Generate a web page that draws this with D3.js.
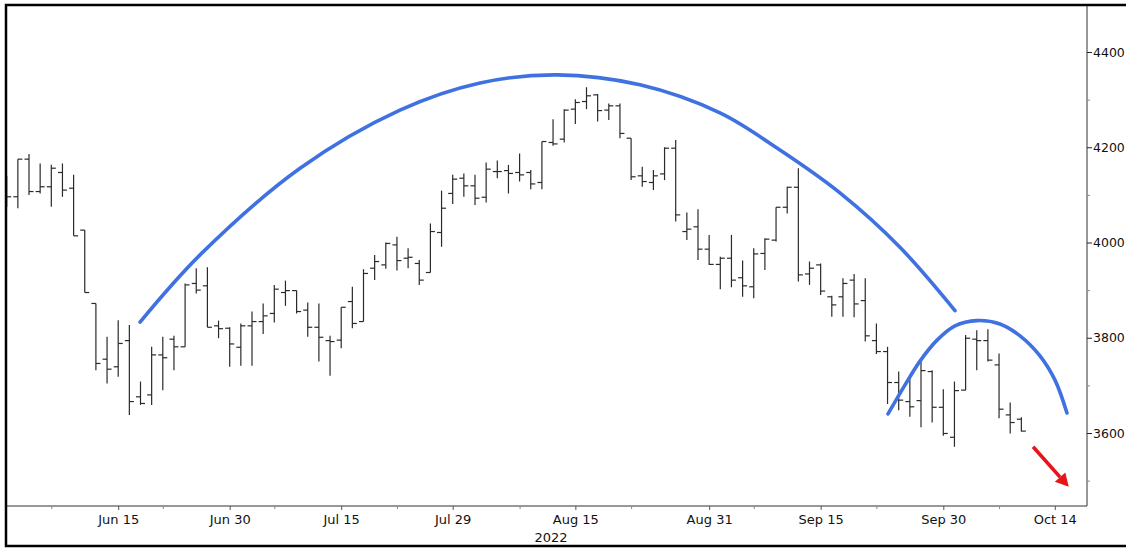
<!DOCTYPE html>
<html>
<head>
<meta charset="utf-8">
<script src="https://cdn.jsdelivr.net/npm/d3@7"></script>
<style>
  body { margin: 0; background: #fff; }
  svg { display: block; }
  text { font-family: "DejaVu Sans", Verdana, sans-serif; font-size: 13px; fill: #111; }
</style>
</head>
<body>
<div id="chart"></div>
<script>
// trading days shown on the axis (Jun 1 .. Oct 14, 2022)
var junDays = [1,2,3,6,7,8,9,10,13,14,15,16,17,21,22,23,24,27,28,29,30];
var julDays = [1,5,6,7,8,11,12,13,14,15,18,19,20,21,22,25,26,27,28,29];
var augDays = [1,2,3,4,5,8,9,10,11,12,15,16,17,18,19,22,23,24,25,26,29,30,31];
var sepDays = [1,2,6,7,8,9,12,13,14,15,16,19,20,21,22,23,26,27,28,29,30];
var octDays = [3,4,5,6,7,10,11,12,13,14];

// OHLC, one value per bar starting Jun 1
var open  = [4120,4096,4175,4107,4117,4147,4114,4026,3872,3755,3739,3794,3676,3680,3764,3797,3781,3914,3909,3825,
             3820,3780,3825,3834,3851,3895,3899,3858,3822,3794,3795,3876,3834,3946,3953,3995,3967,3956,3937,4021,
             4103,4135,4119,4095,4149,4151,4147,4147,4126,4210,4217,4280,4296,4310,4278,4287,4219,4140,4126,4144,
             4198,4023,4033,3986,3954,3967,3926,3907,3977,4005,4074,4116,3934,3953,3886,3886,3921,3878,3794,3771,
             3706,3666,3668,3729,3654,3591,3690,3797,3794,3743,3638,3629];
var high  = [4140,4175,4186,4166,4163,4166,4142,4026,3872,3802,3837,3827,3708,3781,3802,3804,3914,3946,3948,3836,
             3822,3830,3855,3872,3911,3920,3899,3874,3872,3804,3864,3907,3944,3974,4000,4012,3988,3963,4040,4109,
             4142,4145,4142,4168,4172,4163,4187,4152,4212,4259,4280,4301,4326,4312,4292,4292,4219,4159,4152,4200,
             4215,4063,4070,4016,3970,4016,3962,3988,4009,4074,4117,4156,3960,3956,3888,3925,3934,3925,3830,3781,
             3729,3715,3750,3732,3692,3708,3806,3816,3818,3767,3664,3633];
var low   = [4075,4072,4100,4103,4075,4096,4014,3895,3732,3704,3718,3638,3659,3659,3690,3732,3781,3893,3822,3799,
             3739,3741,3741,3808,3832,3867,3851,3802,3750,3720,3778,3820,3834,3921,3945,3941,3946,3911,3937,3991,
             4081,4096,4079,4084,4135,4103,4128,4112,4112,4203,4210,4249,4280,4254,4257,4219,4131,4117,4110,4131,
             4044,4005,3963,3953,3902,3906,3886,3883,3942,4002,4061,3918,3911,3890,3844,3844,3843,3792,3766,3661,
             3648,3634,3612,3622,3594,3571,3690,3732,3750,3631,3599,3603];
var close = [4096,4175,4107,4117,4156,4110,4014,3895,3746,3734,3788,3666,3662,3764,3758,3781,3911,3900,3822,3819,
             3787,3825,3834,3846,3902,3899,3855,3822,3801,3792,3864,3830,3935,3960,3998,3962,3969,3921,4023,4072,
             4133,4119,4093,4154,4149,4145,4142,4123,4212,4207,4278,4294,4308,4277,4287,4229,4138,4128,4140,4198,
             4058,4028,3986,3954,3967,3921,3909,3976,4007,4074,4116,3932,3946,3898,3869,3914,3871,3804,3771,3706,
             3669,3655,3731,3654,3599,3689,3799,3794,3753,3650,3622,3604];

var majorTicks = ["2022-06-15","2022-06-30","2022-07-15","2022-07-29","2022-08-15","2022-08-31","2022-09-15","2022-09-30","2022-10-14"];
var minorTicks = ["2022-06-07","2022-06-22","2022-07-07","2022-07-22","2022-08-08","2022-08-22","2022-09-07","2022-09-22","2022-10-07"];
var yMajor = [3600,3800,4000,4200,4400];
var yMinor = [3500,3700,3900,4100,4300];

// hand drawn annotation arcs, as [trading day index, price]
var bigArc   = [[11.96,3833],[17.34,3974],[26.31,4156],[35.27,4278],[42.45,4335],[49.35,4352],[56.8,4331],
                [63.97,4272],[69.35,4194],[74.73,4104],[80.11,3990],[85.05,3857]];
var smallArc = [[79.04,3640],[80.57,3701],[81.91,3751],[83.44,3795],[85.05,3825],[87.02,3836],[89.08,3829],
                [90.88,3804],[92.67,3762],[94.02,3711],[95.09,3642]];
var arrowPts = [[92.05,3571],[95.25,3487]];

var W = 1126, H = 548;
var plot = {left: 6, right: 1087, top: 5, bottom: 506};

function pad(n) { return n < 10 ? "0" + n : "" + n; }
var dates = [];
[[6, junDays],[7, julDays],[8, augDays],[9, sepDays],[10, octDays]].forEach(function(m) {
    m[1].forEach(function(d) { dates.push("2022-" + pad(m[0]) + "-" + pad(d)); });
});
var bars = open.map(function(o, i) {
    return {date: dates[i], o: o, h: high[i], l: low[i], c: close[i]};
});

var step = 11.15;
var x = d3.scalePoint()
    .domain(dates)
    .range([6.7, 6.7 + step * (dates.length - 1)]);
var xi = d3.scaleLinear()
    .domain([0, dates.length - 1])
    .range(x.range());
var y = d3.scaleLinear()
    .domain([3600, 4400])
    .range([433, 52]);

var parse = d3.timeParse("%Y-%m-%d");
var fmt = d3.timeFormat("%b %d");

var svg = d3.select("#chart").append("svg")
    .attr("width", W)
    .attr("height", H);

svg.append("rect").attr("width", W).attr("height", H).attr("fill", "#fff");

svg.append("defs").append("clipPath").attr("id", "clip")
    .append("rect")
    .attr("x", plot.left).attr("y", plot.top)
    .attr("width", plot.right - plot.left).attr("height", plot.bottom - plot.top);

var g = svg.append("g").attr("clip-path", "url(#clip)");

// ohlc bars
var tick = 4.5;
var b = g.append("g")
    .attr("stroke", "#2a2a2a")
    .attr("stroke-width", 1.2)
    .selectAll("g")
    .data(bars)
    .enter().append("g");
b.append("line")
    .attr("x1", function(d) { return x(d.date); })
    .attr("x2", function(d) { return x(d.date); })
    .attr("y1", function(d) { return y(d.h); })
    .attr("y2", function(d) { return y(d.l); });
b.append("line")
    .attr("x1", function(d) { return x(d.date) - tick; })
    .attr("x2", function(d) { return x(d.date); })
    .attr("y1", function(d) { return y(d.o); })
    .attr("y2", function(d) { return y(d.o); });
b.append("line")
    .attr("x1", function(d) { return x(d.date); })
    .attr("x2", function(d) { return x(d.date) + tick; })
    .attr("y1", function(d) { return y(d.c); })
    .attr("y2", function(d) { return y(d.c); });

// arcs
var arcLine = d3.line()
    .x(function(d) { return xi(d[0]); })
    .y(function(d) { return y(d[1]); })
    .curve(d3.curveCatmullRom);

g.append("path").datum(bigArc)
    .attr("d", arcLine)
    .attr("fill", "none")
    .attr("stroke", "#3f72e0")
    .attr("stroke-width", 3.6)
    .attr("stroke-linecap", "round");
g.append("path").datum(smallArc)
    .attr("d", arcLine)
    .attr("fill", "none")
    .attr("stroke", "#3f72e0")
    .attr("stroke-width", 3.6)
    .attr("stroke-linecap", "round");

// red arrow
var ax0 = xi(arrowPts[0][0]), ay0 = y(arrowPts[0][1]);
var ax1 = xi(arrowPts[1][0]), ay1 = y(arrowPts[1][1]);
var ang = Math.atan2(ay1 - ay0, ax1 - ax0);
var headLen = 13, headW = 7;
var bx = ax1 - headLen * Math.cos(ang), by = ay1 - headLen * Math.sin(ang);
g.append("line")
    .attr("x1", ax0).attr("y1", ay0)
    .attr("x2", bx).attr("y2", by)
    .attr("stroke", "#e8141a")
    .attr("stroke-width", 3.6);
g.append("path")
    .attr("d", "M" + ax1 + "," + ay1 +
        "L" + (bx + headW * Math.sin(ang)) + "," + (by - headW * Math.cos(ang)) +
        "L" + (bx - headW * Math.sin(ang)) + "," + (by + headW * Math.cos(ang)) + "Z")
    .attr("fill", "#e8141a");

// axes frame
svg.append("line")
    .attr("x1", plot.left).attr("x2", plot.right)
    .attr("y1", plot.bottom).attr("y2", plot.bottom)
    .attr("stroke", "#333").attr("stroke-width", 1);
svg.append("line")
    .attr("x1", plot.right).attr("x2", plot.right)
    .attr("y1", plot.top).attr("y2", plot.bottom)
    .attr("stroke", "#333").attr("stroke-width", 1);

// x axis
var xAxis = d3.axisBottom(x)
    .tickValues(majorTicks)
    .tickSize(4)
    .tickPadding(5)
    .tickFormat(function(d) { return fmt(parse(d)); });
var gx = svg.append("g")
    .attr("transform", "translate(0," + plot.bottom + ")")
    .call(xAxis);
gx.select(".domain").remove();
gx.selectAll("line").attr("stroke", "#555");
gx.selectAll("text").style("font-size", "13px").attr("fill", "#111");

svg.append("g")
    .attr("transform", "translate(0," + plot.bottom + ")")
    .call(d3.axisBottom(x).tickValues(minorTicks).tickSize(3).tickFormat(""))
    .call(function(s) { s.select(".domain").remove(); s.selectAll("line").attr("stroke", "#888"); });

svg.append("text")
    .attr("x", 551)
    .attr("y", 542)
    .attr("text-anchor", "middle")
    .text("2022");

// y axis
var gy = svg.append("g")
    .attr("transform", "translate(" + plot.right + ",0)")
    .call(d3.axisRight(y).tickValues(yMajor).tickSize(5).tickPadding(1).tickFormat(d3.format("d")));
gy.select(".domain").remove();
gy.selectAll("line").attr("stroke", "#222");
gy.selectAll("text").style("font-size", "12.5px").attr("fill", "#111");

svg.append("g")
    .attr("transform", "translate(" + plot.right + ",0)")
    .call(d3.axisRight(y).tickValues(yMinor).tickSize(3).tickFormat(""))
    .call(function(s) { s.select(".domain").remove(); s.selectAll("line").attr("stroke", "#888"); });

// outer frame
svg.append("rect")
    .attr("x", 6).attr("y", 5)
    .attr("width", W + 20).attr("height", 541)
    .attr("fill", "none")
    .attr("stroke", "#000")
    .attr("stroke-width", 2.5);
</script>
</body>
</html>
